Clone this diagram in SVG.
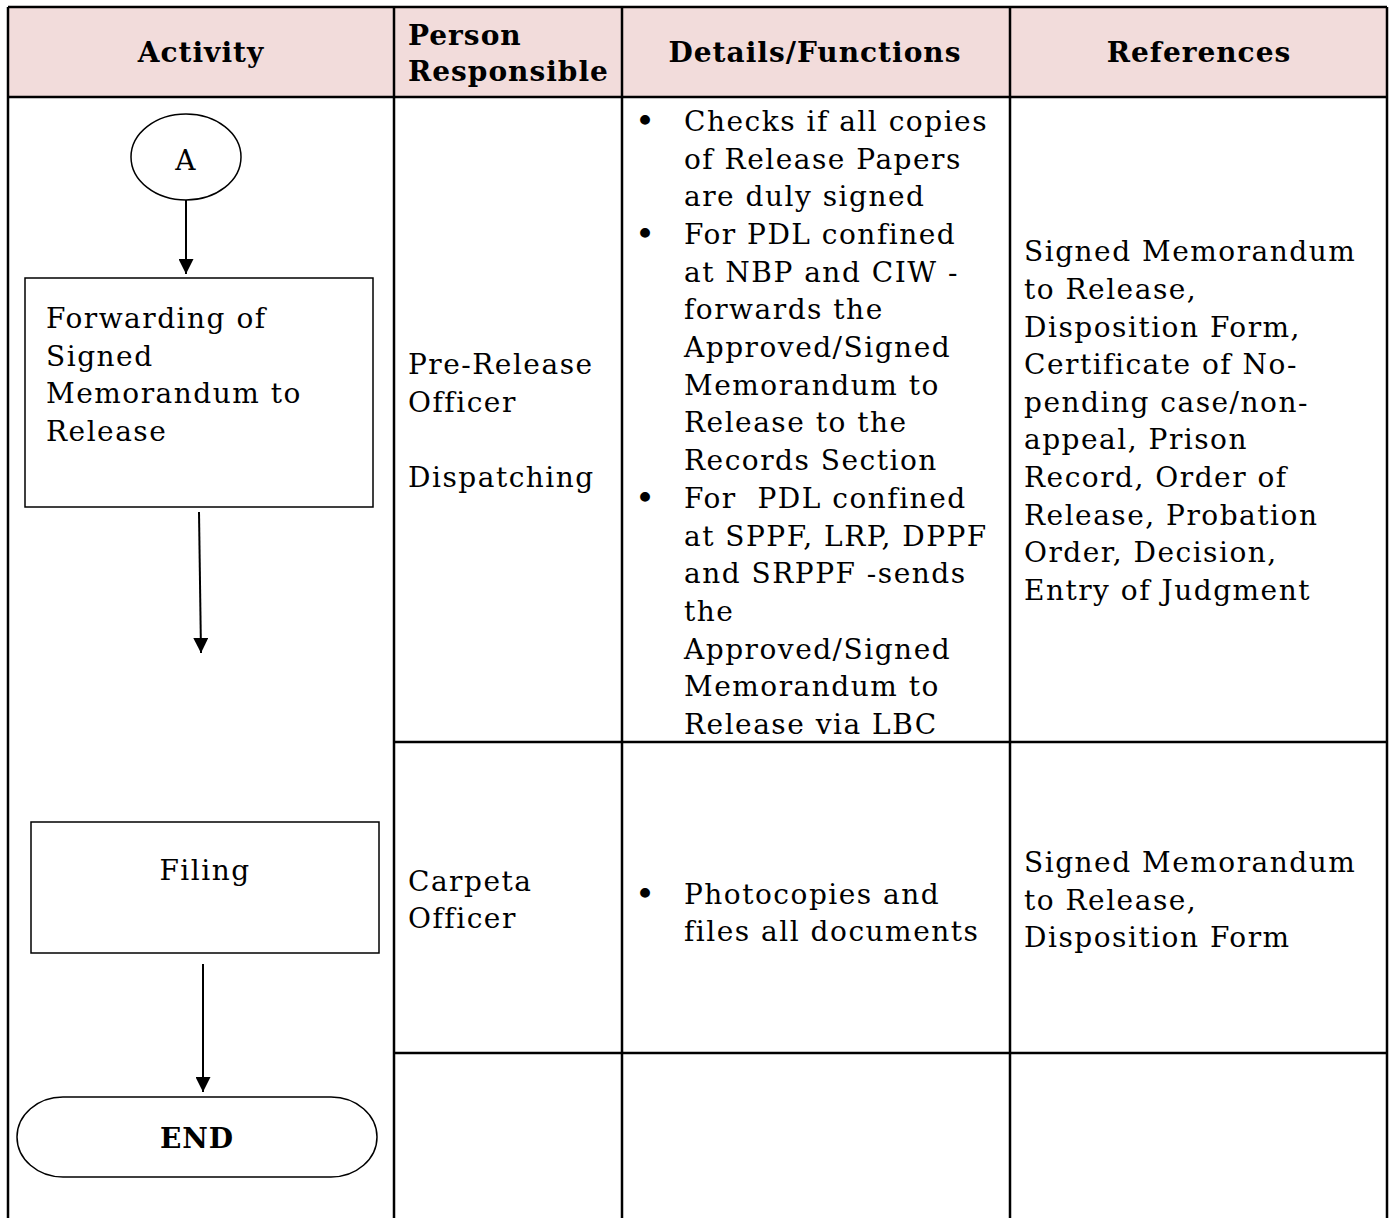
<svg xmlns="http://www.w3.org/2000/svg" width="1392" height="1218" viewBox="0 0 1392 1218">
<defs>
<style>
.t{font-family:"DejaVu Serif","Liberation Serif",serif;font-size:28px;letter-spacing:1.5px;fill:#000}
.b{font-family:"DejaVu Serif","Liberation Serif",serif;font-size:34px;fill:#000}
.h{font-family:"DejaVu Serif","Liberation Serif",serif;font-size:28px;font-weight:bold;letter-spacing:1px;fill:#000}
.c{text-anchor:middle}
.grid{stroke:#000;stroke-width:2.5;fill:none}
.shape{stroke:#000;stroke-width:1.5;fill:#fff}
.conn{stroke:#000;stroke-width:2;fill:none;marker-end:url(#ah)}
</style>
<marker id="ah" markerUnits="userSpaceOnUse" markerWidth="15" markerHeight="15" refX="15" refY="7.5" orient="auto">
<path d="M0,0 L15,7.5 L0,15 z" fill="#000"/>
</marker>
</defs>
<rect width="1392" height="1218" fill="#fff"/>
<g id="table">
<rect x="8" y="7" width="1379" height="90" fill="#f2dcdb"/>
<path class="grid" d="M8,7 H1387 M8,97 H1387 M394,742 H1387 M394,1053 H1387 M8,7 V1218 M394,7 V1218 M622,7 V1218 M1010,7 V1218 M1387,7 V1218"/>
</g>
<g id="header">
<text class="h c" x="201" y="62">Activity</text>
<text class="h" x="408" y="45">Person</text>
<text class="h" x="408" y="81">Responsible</text>
<text class="h c" x="815" y="62">Details/Functions</text>
<text class="h c" x="1199" y="62">References</text>
</g>
<g id="connectors">
<line class="conn" x1="186" y1="200" x2="186" y2="274"/>
<line class="conn" x1="199" y1="512" x2="201" y2="653"/>
<line class="conn" x1="203" y1="964" x2="203" y2="1092"/>
</g>
<g id="node-A">
<ellipse class="shape" cx="186" cy="157" rx="55" ry="43"/>
<text class="t c" x="186" y="170">A</text>
</g>
<g id="node-forwarding">
<rect class="shape" x="25" y="278" width="348" height="229"/>
<text class="t" x="46" y="328">Forwarding of</text>
<text class="t" x="46" y="366">Signed</text>
<text class="t" x="46" y="403">Memorandum to</text>
<text class="t" x="46" y="441">Release</text>
</g>
<g id="node-filing">
<rect class="shape" x="31" y="822" width="348" height="131"/>
<text class="t c" x="205" y="880">Filing</text>
</g>
<g id="node-end">
<rect class="shape" x="17" y="1097" width="360" height="80" rx="46" ry="40"/>
<text class="h c" x="197" y="1148">END</text>
</g>
<g id="person">
<text class="t" x="408" y="374">Pre-Release</text>
<text class="t" x="408" y="412">Officer</text>
<text class="t" x="408" y="487">Dispatching</text>
<text class="t" x="408" y="891">Carpeta</text>
<text class="t" x="408" y="928">Officer</text>
</g>
<g id="details">
<text class="b" x="635" y="133">•</text>
<text class="b" x="635" y="246">•</text>
<text class="b" x="635" y="510">•</text>
<text class="t" x="684" y="131">Checks if all copies</text>
<text class="t" x="684" y="169">of Release Papers</text>
<text class="t" x="684" y="206">are duly signed</text>
<text class="t" x="684" y="244">For PDL confined</text>
<text class="t" x="684" y="282">at NBP and CIW -</text>
<text class="t" x="684" y="319">forwards the</text>
<text class="t" x="684" y="357">Approved/Signed</text>
<text class="t" x="684" y="395">Memorandum to</text>
<text class="t" x="684" y="432">Release to the</text>
<text class="t" x="684" y="470">Records Section</text>
<text class="t" x="684" y="508" xml:space="preserve">For  PDL confined</text>
<text class="t" x="684" y="546">at SPPF, LRP, DPPF</text>
<text class="t" x="684" y="583">and SRPPF -sends</text>
<text class="t" x="684" y="621">the</text>
<text class="t" x="684" y="659">Approved/Signed</text>
<text class="t" x="684" y="696">Memorandum to</text>
<text class="t" x="684" y="734">Release via LBC</text>
<text class="b" x="635" y="906">•</text>
<text class="t" x="684" y="904">Photocopies and</text>
<text class="t" x="684" y="941">files all documents</text>
</g>
<g id="references">
<text class="t" x="1024" y="261">Signed Memorandum</text>
<text class="t" x="1024" y="299">to Release,</text>
<text class="t" x="1024" y="337">Disposition Form,</text>
<text class="t" x="1024" y="374">Certificate of No-</text>
<text class="t" x="1024" y="412">pending case/non-</text>
<text class="t" x="1024" y="449">appeal, Prison</text>
<text class="t" x="1024" y="487">Record, Order of</text>
<text class="t" x="1024" y="525">Release, Probation</text>
<text class="t" x="1024" y="562">Order, Decision,</text>
<text class="t" x="1024" y="600">Entry of Judgment</text>
<text class="t" x="1024" y="872">Signed Memorandum</text>
<text class="t" x="1024" y="910">to Release,</text>
<text class="t" x="1024" y="947">Disposition Form</text>
</g>
</svg>
